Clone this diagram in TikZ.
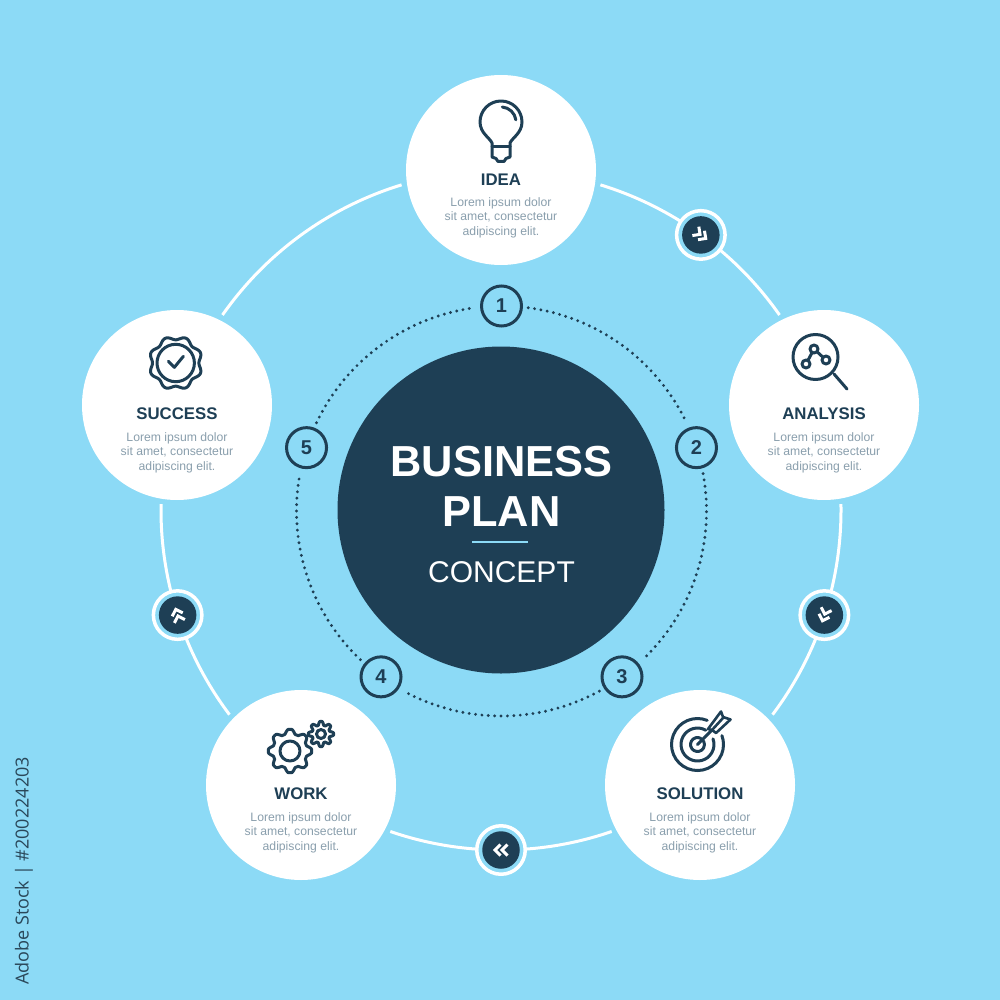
\documentclass[tikz,border=0pt]{standalone}
\usepackage{fontspec}
\setmainfont{Liberation Sans}
\newfontfamily\sidefont{Open Sans}
\usetikzlibrary{calc}
\definecolor{bgblue}{HTML}{8CDAF6}
\definecolor{navy}{HTML}{1E3F55}
\definecolor{greytext}{HTML}{8A9FAD}
\definecolor{sidetext}{HTML}{2A4759}
\tikzset{
  x=1pt,y=-1pt,
  stagecircle/.style={circle,fill=white,minimum size=190pt,inner sep=0pt,outer sep=0pt},
  stagetitle/.style={anchor=base,inner sep=0pt,text=navy,font=\fontsize{16.8}{18}\selectfont\bfseries},
  stagebody/.style={anchor=north,inner sep=0pt,align=center,text=greytext,font=\fontsize{12.2}{14.5}\selectfont},
  ringline/.style={draw=white,line width=3pt},
  dotline/.style={draw=navy,line width=3.2pt,line cap=round,dash pattern=on 0pt off 6.4pt},
  numcircle/.style={circle,draw=navy,line width=3pt,minimum size=40pt,inner sep=0pt,text=navy,font=\fontsize{20}{22}\selectfont\bfseries},
  badgering/.style={circle,draw=white,fill=bgblue,line width=3.5pt,minimum size=48.5pt,inner sep=0pt},
  badgecore/.style={circle,fill=navy,minimum size=37.5pt,inner sep=0pt},
  chevron/.style={draw=white,line width=3pt,line join=miter},
  icon/.style={draw=navy,line width=3pt,line join=round,line cap=round},
  iconthin/.style={draw=navy,line width=2.6pt,line join=round,line cap=round},
}
\newcommand{\ringarc}[4]{% style, name, clock from, clock to
  \coordinate (#2) at ($(\arcc)+({#3-90}:\arcr)$);
  \draw[#1] (#2) arc[start angle={#3-90},end angle={#4-90},radius=\arcr];}
\newcommand{\chevrons}[2]{% badge, clock angle
  \begin{scope}[shift={(#1)},rotate={-#2}]
    \draw[chevron] (-6.5,-5.5) -- (-1,0) -- (-6.5,5.5);
    \draw[chevron] (0.5,-5.5) -- (6,0) -- (0.5,5.5);
  \end{scope}}
\newcommand{\stage}[5]{% name, x, y, title, title offset
  \node[stagecircle] (#1) at (#2,#3) {};
  \node[stagetitle] (#1title) at ($(#1)+(0,#5)$) {#4};
  \node[stagebody] (#1body) at ($(#1)+(0,27.2)$) {Lorem ipsum dolor\\sit amet, consectetur\\adipiscing elit.};}
\begin{document}
\begin{tikzpicture}
\path[use as bounding box,fill=bgblue] (0,0) rectangle (1000,1000);
\coordinate (hub) at (501,510);
\coordinate (numhub) at (501.5,511);

% outer ring
\def\arcr{340}
\def\arcc{hub}
\ringarc{ringline}{ra}{17}{55}
\ringarc{ringline}{rb}{89}{127}
\ringarc{ringline}{rc}{161}{199}
\ringarc{ringline}{rd}{233}{271}
\ringarc{ringline}{re}{305}{343}

% inner dotted ring
\def\arcr{205}
\def\arcc{numhub}
\ringarc{dotline}{da}{7.5}{64.5}
\ringarc{dotline}{db}{79.5}{136.5}
\ringarc{dotline}{dc}{151.5}{208.5}
\ringarc{dotline}{dd}{223.5}{280.5}
\ringarc{dotline}{de}{295.5}{352.5}

% centre
\node[circle,fill=navy,minimum size=327pt,inner sep=0pt] (core) at (hub) {};
\node[anchor=base,inner sep=0pt,text=white,font=\fontsize{43.4}{50}\selectfont\bfseries] (business) at (501.5,476) {BUSINESS};
\node[anchor=base,inner sep=0pt,text=white,font=\fontsize{43.4}{50}\selectfont\bfseries] (planword) at (501.5,526) {PLAN};
\node[anchor=base,inner sep=0pt,text=white,font=\fontsize{30}{34}\selectfont] (concept) at (501.5,582) {CONCEPT};
\coordinate (sepl) at (472,542);
\coordinate (sepr) at (528,542);
\draw[bgblue,line width=2pt] (sepl) -- (sepr);

% numbers
\node[numcircle] (n1) at ($(numhub)+(-90:205)$) {1};
\node[numcircle] (n2) at ($(numhub)+(-18:205)$) {2};
\node[numcircle] (n3) at ($(numhub)+(54:205)$) {3};
\node[numcircle] (n4) at ($(numhub)+(126:205)$) {4};
\node[numcircle] (n5) at ($(numhub)+(198:205)$) {5};

% stages
\stage{idea}{501}{170}{IDEA}{15.5}
\stage{analysis}{824}{405}{ANALYSIS}{14.7}
\stage{solution}{700}{785}{SOLUTION}{14.7}
\stage{work}{301}{785}{WORK}{14.7}
\stage{success}{177}{405}{SUCCESS}{14.7}

% badges
\node[badgering] (r1) at ($(hub)+(-54:340)$) {};
\node[badgecore] (b1) at (r1) {};
\chevrons{b1}{36}
\node[badgering] (r2) at ($(hub)+(18:340)$) {};
\node[badgecore] (b2) at (r2) {};
\chevrons{b2}{108}
\node[badgering] (r3) at ($(hub)+(90:340)$) {};
\node[badgecore] (b3) at (r3) {};
\chevrons{b3}{180}
\node[badgering] (r4) at ($(hub)+(162:340)$) {};
\node[badgecore] (b4) at (r4) {};
\chevrons{b4}{252}

% bulb
\draw[icon] (492,157) -- (492,147) -- (492,143) .. controls (490,138) and (480,133) .. (480,122)
  arc[start angle=180,end angle=360,radius=21]
  .. controls (522,133) and (512,138) .. (510,143) -- (510,157) -- (506,158.5) -- (504,161.5) -- (498,161.5) -- (496,158.5) -- cycle;
\draw[icon] (492,147) -- (510,147);
\draw[icon] (502.3,107) arc[start angle=-85,end angle=-8,radius=15];

% magnifier
\draw[icon] (815.5,357) circle[radius=22.5];
\draw[icon] (834,374) -- (847,389);
\draw[icon] (806,364) -- (814,349) -- (826,360);
\draw[icon,fill=white] (814,349) circle[radius=4];
\draw[icon,fill=white] (806,364) circle[radius=4];
\draw[icon,fill=white] (826,360) circle[radius=4];

% target
\begin{scope}[shift={(697.5,744.5)}]
  \draw[icon] (-68:26) arc[start angle=-68,end angle=-380,radius=26];
  \draw[icon] (-60:16.5) arc[start angle=-60,end angle=-380,radius=16.5];
  \draw[icon] (-60:7) arc[start angle=-60,end angle=-390,radius=7];
  \draw[icon] (0,0) -- (15,-15);
\end{scope}
\draw[iconthin,fill=white] (708,729) -- (721,711.5) -- (723,717) -- (730.5,719.5) -- (716,733) -- (712,730) -- cycle;
\draw[iconthin] (712,730) -- (723,718);

% gears
\begin{scope}[shift={(290,751)}]
  \draw[icon] plot[domain=0:360,samples=241] (\x:{19.5+2.2*max(-1,min(1,1.3*cos(8*\x)))}) -- cycle;
  \draw[icon] (0,0) circle[radius=10];
\end{scope}
\begin{scope}[shift={(321,734)}]
  \draw[icon] plot[domain=0:360,samples=241] (\x:{10.8+1.8*max(-1,min(1,1.3*cos(8*\x)))}) -- cycle;
  \draw[icon] (0,0) circle[radius=4.5];
\end{scope}

% seal
\begin{scope}[shift={(175.7,363)}]
  \draw[icon] plot[domain=0:360,samples=241] (\x:{25+1.8*cos(8*(\x-22.5))}) -- cycle;
  \draw[icon] (0,0) circle[radius=18.7];
  \draw[icon] (-7.3,-1.7) -- (-1.3,4.3) -- (7.7,-6.7);
\end{scope}

% side label
\node[anchor=base west,rotate=90,inner sep=0pt,text=sidetext,font=\sidefont\fontsize{18}{20}\selectfont] (sidelabel) at (28.5,985) {Adobe Stock | \#200224203};
\end{tikzpicture}
\end{document}
